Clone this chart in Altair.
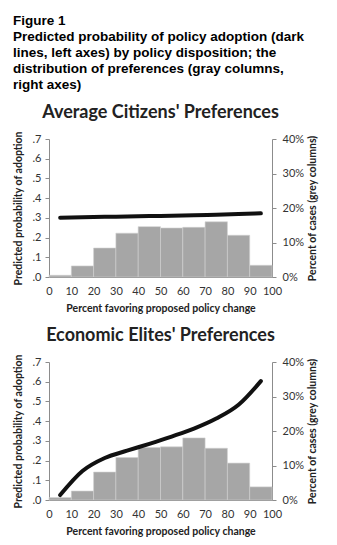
import altair as alt
import pandas as pd

# Data
bin_lo = [0, 10, 20, 30, 40, 50, 60, 70, 80, 90]
bin_hi = [10, 20, 30, 40, 50, 60, 70, 80, 90, 100]
mid = [5, 15, 25, 35, 45, 55, 65, 75, 85, 95]

citizens_pct = [0.5, 3.2, 8.4, 12.7, 14.6, 14.2, 14.4, 16.0, 12.1, 3.4]
citizens_prob = [0.301, 0.303, 0.305, 0.307, 0.309, 0.311, 0.313, 0.316, 0.319, 0.323]

elites_pct = [0.7, 2.6, 8.1, 12.3, 15.2, 15.4, 18.0, 15.0, 10.7, 3.8]
elites_prob = [0.025, 0.147, 0.213, 0.25, 0.285, 0.322, 0.362, 0.413, 0.483, 0.603]

header = [
    "Figure 1",
    "Predicted probability of policy adoption (dark",
    "lines, left axes) by policy disposition; the",
    "distribution of preferences (gray columns,",
    "right axes)",
]

FONT = "Lato"
AXIS_GRAY = "#8c8c8c"
TEXT = "#333333"


def panel(title, pct, prob):
    bars_df = pd.DataFrame({"lo": bin_lo, "hi": bin_hi, "pct": pct})
    line_df = pd.DataFrame({"x": mid, "prob": prob})
    xaxis = alt.Axis(
        values=list(range(0, 101, 10)), ticks=False, grid=False, labelOverlap=False,
        labelFlush=False,
        title="Percent favoring proposed policy change",
        domainColor=AXIS_GRAY, labelFont=FONT, labelFontSize=11, labelColor=TEXT,
        titleFont=FONT, titleFontSize=10.5, titleFontWeight="bold", titleColor="#222",
        labelPadding=8, titlePadding=7,
    )
    bars = alt.Chart(bars_df).mark_bar(color="#a6a6a6", stroke="#d0d0d0", strokeWidth=0.6).encode(
        x=alt.X("lo:Q", scale=alt.Scale(domain=[0, 100], nice=False), axis=xaxis),
        x2="hi:Q",
        y=alt.Y("pct:Q", scale=alt.Scale(domain=[0, 40], nice=False),
                axis=alt.Axis(orient="right", values=[0, 10, 20, 30, 40], grid=False,
                              labelExpr="datum.value + '%'",
                              title="Percent of cases (grey columns)", titleAngle=270,
                              titleBaseline="top",
                              domainColor=AXIS_GRAY, tickColor=AXIS_GRAY, tickSize=4,
                              labelFont=FONT, labelFontSize=11, labelColor=TEXT,
                              titleFont=FONT, titleFontSize=10.5, titleFontWeight="bold",
                              titleColor="#222", labelPadding=6, titlePadding=4)),
        y2=alt.datum(0),
    )
    line = alt.Chart(line_df).mark_line(color="#111111", strokeWidth=4, strokeCap="round",
                                        interpolate="monotone").encode(
        x=alt.X("x:Q", scale=alt.Scale(domain=[0, 100], nice=False), axis=xaxis),
        y=alt.Y("prob:Q", scale=alt.Scale(domain=[0, 0.7], nice=False),
                axis=alt.Axis(orient="left", values=[0, 0.1, 0.2, 0.3, 0.4, 0.5, 0.6, 0.7],
                              grid=False,
                              labelExpr="replace(format(datum.value, '.1f'), '0.', '.')",
                              title="Predicted probability of adoption",
                              domainColor=AXIS_GRAY, tickColor=AXIS_GRAY, tickSize=4,
                              labelFont=FONT, labelFontSize=11, labelColor=TEXT,
                              titleFont=FONT, titleFontSize=10.5, titleFontWeight="bold",
                              titleColor="#222", labelPadding=4, titlePadding=9)),
    )
    return alt.layer(bars, line).resolve_scale(y="independent").properties(
        width=223, height=138,
        title=alt.Title(title, font=FONT, fontSize=18, fontWeight="bold", color="#222",
                        anchor="middle", offset=9),
    )


chart = alt.vconcat(
    panel("Average Citizens' Preferences", citizens_pct, citizens_prob),
    panel("Economic Elites' Preferences", elites_pct, elites_prob),
    spacing=12,
).properties(
    title=alt.Title(header, anchor="start", font="Liberation Sans", fontSize=13.5,
                    fontWeight="bold", color="#000", lineHeight=16, offset=12,
                    frame="bounds"),
    padding={"left": 13, "top": 14, "right": 5, "bottom": 5},
).configure_view(stroke=None)

chart.save("out.html", embed_options={"renderer": "svg", "actions": False})
